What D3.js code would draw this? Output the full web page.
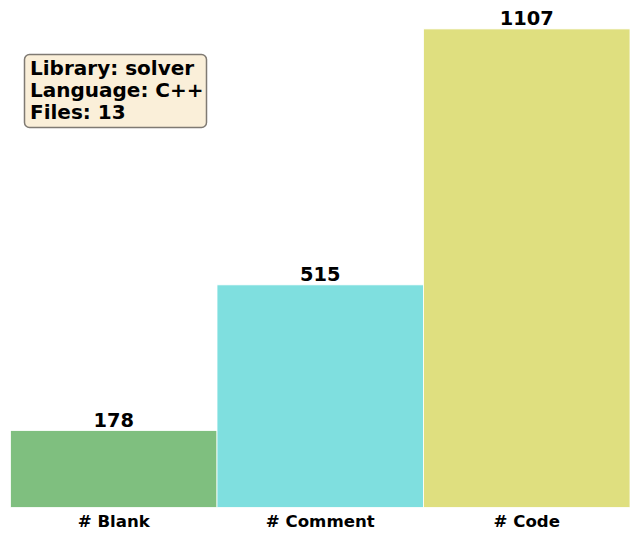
<!DOCTYPE html>
<html>
<head>
<meta charset="utf-8">
<script src="https://cdn.jsdelivr.net/npm/d3@7"></script>
<style>
  body { margin: 0; background: #fff; }
  text { font-family: "DejaVu Sans", sans-serif; font-weight: bold; }
</style>
</head>
<body>
<div id="chart"></div>
<script>
// chart data
const categories = ["# Blank", "# Comment", "# Code"];
const counts = [178, 515, 1107];
const barColors = ["#7fbf7f", "#7fdfdf", "#dfdf7f"];
const infoLines = ["Library: solver", "Language: C++", "Files: 13"];

const width = 640, height = 539;
const margin = {top: 5, right: 10, bottom: 31.5, left: 10.5};

const svg = d3.select("#chart")
  .append("svg")
  .attr("width", width)
  .attr("height", height);

// band scale for the three bars, no gaps
const xScale = d3.scaleBand()
  .domain(categories)
  .range([margin.left, width - margin.right])
  .padding(0);

// linear scale with a bit of headroom above the tallest bar
const yScale = d3.scaleLinear()
  .domain([0, d3.max(counts) * 1.05])
  .range([height - margin.bottom, margin.top]);

const data = categories.map((c, i) => ({cat: c, val: counts[i], color: barColors[i]}));

svg.selectAll("rect.bar")
  .data(data)
  .enter()
  .append("rect")
    .attr("class", "bar")
    .attr("x", d => xScale(d.cat))
    .attr("y", d => yScale(d.val))
    .attr("width", xScale.bandwidth())
    .attr("height", d => yScale(0) - yScale(d.val))
    .attr("fill", d => d.color)
    .attr("stroke", "#fff")
    .attr("stroke-width", 0.8);

// value labels on top of bars
svg.selectAll("text.val")
  .data(data)
  .enter()
  .append("text")
    .attr("class", "val")
    .attr("x", d => xScale(d.cat) + xScale.bandwidth() / 2)
    .attr("y", d => yScale(d.val) - 4)
    .attr("text-anchor", "middle")
    .attr("font-size", "19.4px")
    .attr("fill", "#000")
    .text(d => d.val);

// x axis, labels only
const xAxis = svg.append("g")
  .attr("transform", `translate(0,${height - margin.bottom})`)
  .call(d3.axisBottom(xScale).tickSize(0).tickPadding(8));
xAxis.select(".domain").remove();
xAxis.selectAll("text")
  .attr("font-size", "16.6px")
  .attr("font-family", "DejaVu Sans")
  .attr("font-weight", "bold")
  .attr("fill", "#000");

// info box in the upper left
const box = svg.append("g").attr("transform", "translate(24.5,54.5)");
box.append("rect")
  .attr("width", 182)
  .attr("height", 73)
  .attr("rx", 5)
  .attr("fill", "#faefd9")
  .attr("stroke", "#7f7a73")
  .attr("stroke-width", 1.5);
box.selectAll("text")
  .data(infoLines)
  .enter()
  .append("text")
    .attr("x", 5.5)
    .attr("y", (d, i) => 20 + i * 22)
    .attr("font-size", "20px")
    .attr("fill", "#000")
    .text(d => d);
</script>
</body>
</html>
